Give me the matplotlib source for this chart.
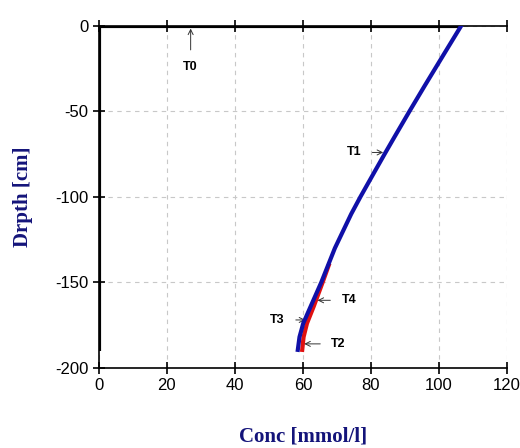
import matplotlib.pyplot as plt

plt.rcParams['axes.unicode_minus'] = False

# profiles (concentration, depth)
t0_conc = [106.5, 0, 0]
t0_depth = [0, 0, -190]

t1_conc = [106.5, 101.6, 95.8, 91.3, 86.9, 84.0, 80.3, 76.9, 74.2, 69.4, 65.4, 62.3, 60.1, 59.0, 58.5]
t1_depth = [0, -16, -35, -50, -65, -75, -88, -100, -110, -130, -150, -164, -174, -182, -189.5]

t2_conc = [67.6, 65.8, 63.2, 61.2, 60.2, 59.8]
t2_depth = [-140, -150, -164, -174, -182, -189.5]

labels = ['T0', 'T1', 'T2', 'T3', 'T4']
label_xy = [(27, -24), (75, -74), (70.5, -186), (52.5, -172), (73.5, -160.5)]
arrow_tip = [(27, -1.5), (83.6, -74), (60.4, -186), (60.7, -172), (64.3, -160.5)]

navy = '#14147a'

fig = plt.figure(figsize=(5.2, 4.48), dpi=100)
ax = fig.add_axes([0.19, 0.179, 0.785, 0.763])

ax.plot(t0_conc, t0_depth, color='black', lw=3, solid_capstyle='butt', zorder=3)
ax.plot(t2_conc, t2_depth, color='#e01010', lw=3, zorder=3)
ax.plot(t1_conc, t1_depth, color='#1010a8', lw=3, zorder=4)

for lab, xy, tip in zip(labels, label_xy, arrow_tip):
    ax.annotate(lab, xy=tip, xytext=xy, fontsize=9, fontweight='bold',
                family='Liberation Sans', ha='center', va='center',
                arrowprops=dict(arrowstyle='->', color='#333333', lw=0.7,
                                shrinkA=6, shrinkB=0))

ax.set_xlim(0, 120)
ax.set_ylim(-200, 0)
ax.set_xticks(range(0, 121, 20))
ax.set_yticks(range(-200, 1, 50))
ax.grid(True, color='#c8c8c8', linestyle=(0, (4, 4)), lw=0.8)

ax.spines['right'].set_visible(False)
for s in ['left', 'bottom', 'top']:
    ax.spines[s].set_linewidth(1.2)
ax.tick_params(direction='inout', length=8, width=1.2, top=True, labelsize=12)
for t in ax.get_xticklabels() + ax.get_yticklabels():
    t.set_family('Liberation Sans')

ax.set_xlabel('Conc [mmol/l]', fontsize=15, fontweight='bold', family='Liberation Serif',
              color=navy, labelpad=24)
ax.set_ylabel('Drpth [cm]', fontsize=15, fontweight='bold', family='Liberation Serif',
              color=navy, labelpad=16)

plt.savefig('out.png')
